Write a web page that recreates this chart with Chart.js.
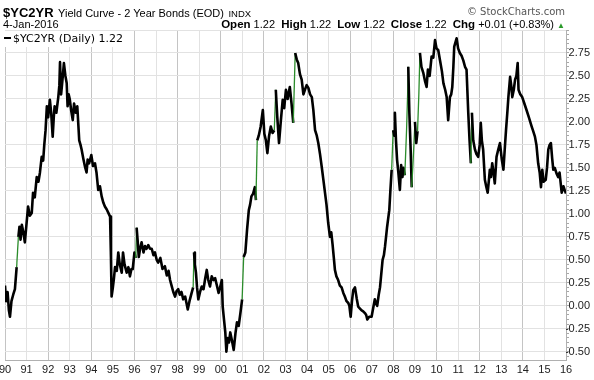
<!DOCTYPE html>
<html>
<head>
<meta charset="utf-8">
<script src="https://cdn.jsdelivr.net/npm/chart.js@4/dist/chart.umd.min.js"></script>
<style>
  html, body { margin:0; padding:0; background:#fff; }
  #wrap { position:relative; width:594px; height:380px; overflow:hidden; font-family:"Liberation Sans", Arial, sans-serif; color:#000; }
  canvas { position:absolute; left:0; top:0; }
  .t { position:absolute; white-space:nowrap; }
  #l1 { left:3px; top:4px; line-height:16px; }
  #l1 .sym { font-weight:bold; font-size:13px; }
  #l1 .nm { font-size:11px; }
  #l1 .ex { font-size:9.5px; }
  #copy { right:29px; top:5px; color:#555; line-height:14px; font-family:"DejaVu Sans", sans-serif; font-size:10px; }
  #date { left:3px; top:17px; font-size:11px; line-height:14px; }
  #quote { right:29px; top:17px; font-size:11px; line-height:14px; }
  #quote b { font-weight:bold; font-size:11.5px; }
  #quote .tri { color:#2a9a2a; font-size:8px; }
  #leg { left:5px; top:31px; width:127px; height:16px; background:#fff; font-family:"DejaVu Sans", sans-serif; font-size:11px; line-height:16px; }
  #leg .dash { display:inline-block; width:7px; height:2px; background:#000; vertical-align:middle; margin:0 2px 0 -1px; position:relative; top:-1px; }
</style>
</head>
<body>
<div id="wrap">
  <canvas id="c" width="594" height="380"></canvas>
  <div class="t" id="l1"><span class="sym">$YC2YR</span> <span class="nm">Yield Curve - 2 Year Bonds (EOD)</span> <span class="ex">INDX</span></div>
  <div class="t" id="copy">© StockCharts.com</div>
  <div class="t" id="date">4-Jan-2016</div>
  <div class="t" id="quote"><b>Open</b> 1.22 &nbsp;<b>High</b> 1.22 &nbsp;<b>Low</b> 1.22 &nbsp;<b>Close</b> 1.22 &nbsp;<b>Chg</b> +0.01 (+0.83%) <span class="tri">▲</span></div>
  <div class="t" id="leg"><span class="dash"></span>$YC2YR (Daily) 1.22</div>
</div>
<script>
// Dates as decimal years
const dates = [
1990.00,1990.05,1990.12,1990.18,1990.23,1990.30,1990.38,1990.46,1990.54,1990.62,1990.67,1990.72,1990.78,1990.85,1990.92,
1991.00,1991.07,1991.15,1991.24,1991.30,1991.38,1991.47,1991.55,1991.62,1991.70,1991.77,1991.82,1991.88,1991.94,
1992.00,1992.08,1992.14,1992.21,1992.26,1992.30,1992.38,1992.47,1992.52,1992.55,1992.60,1992.66,1992.73,1992.80,1992.86,1992.90,1992.95,
1993.00,1993.07,1993.14,1993.20,1993.28,1993.35,1993.44,1993.50,1993.55,1993.63,1993.71,1993.78,1993.83,1993.90,
1994.00,1994.08,1994.17,1994.24,1994.32,1994.40,1994.48,1994.56,1994.63,1994.71,1994.79,1994.87,1994.91,1994.94,
1995.00,1995.05,1995.10,1995.18,1995.25,1995.32,1995.41,1995.47,1995.54,1995.64,1995.72,1995.79,1995.86,1995.92,
1996.00,1996.06,1996.10,1996.15,1996.20,1996.26,1996.33,1996.42,1996.49,1996.56,1996.64,1996.72,1996.80,1996.88,1996.95,
1997.03,1997.10,1997.20,1997.30,1997.41,1997.50,1997.58,1997.65,1997.72,1997.80,1997.88,1997.95,
1998.03,1998.10,1998.18,1998.26,1998.35,1998.42,1998.47,1998.55,1998.65,1998.72,1998.76,1998.80,1998.85,1998.90,1998.96,
1999.04,1999.12,1999.20,1999.28,1999.35,1999.42,1999.50,1999.58,1999.66,1999.74,1999.82,1999.90,1999.97,
2000.05,2000.09,2000.15,2000.21,2000.26,2000.32,2000.38,2000.44,2000.52,2000.60,2000.68,2000.75,2000.83,2000.91,2000.99,
2001.06,2001.14,2001.22,2001.30,2001.36,2001.42,2001.50,2001.58,2001.63,2001.69,2001.76,2001.85,2001.95,
2002.02,2002.09,2002.16,2002.24,2002.32,2002.40,2002.48,2002.55,2002.62,2002.70,2002.78,2002.87,2002.94,
2003.02,2003.10,2003.20,2003.28,2003.36,2003.45,2003.52,2003.59,2003.67,2003.75,2003.83,2003.90,2003.98,
2004.06,2004.14,2004.22,2004.29,2004.37,2004.45,2004.52,2004.60,2004.68,2004.75,2004.83,2004.90,2004.98,
2005.06,2005.12,2005.18,2005.24,2005.29,2005.36,2005.44,2005.52,2005.60,2005.68,2005.75,2005.83,2005.91,2005.96,
2006.02,2006.08,2006.14,2006.22,2006.30,2006.37,2006.45,2006.53,2006.60,2006.68,2006.74,2006.79,2006.88,2006.99,
2007.06,2007.14,2007.20,2007.25,2007.32,2007.38,2007.44,2007.50,2007.56,2007.61,2007.66,2007.71,2007.76,2007.81,2007.86,2007.92,2007.99,
2008.04,2008.07,2008.12,2008.17,2008.23,2008.30,2008.36,2008.42,2008.47,2008.53,2008.61,2008.66,2008.69,2008.74,2008.80,2008.85,2008.92,
2009.00,2009.06,2009.12,2009.18,2009.23,2009.30,2009.39,2009.46,2009.54,2009.60,2009.68,2009.77,2009.85,2009.93,
2010.00,2010.08,2010.16,2010.25,2010.32,2010.40,2010.47,2010.54,2010.62,2010.68,2010.73,2010.78,2010.82,2010.93,
2011.00,2011.08,2011.16,2011.24,2011.32,2011.39,2011.47,2011.53,2011.59,2011.64,2011.70,2011.78,2011.85,2011.93,
2012.00,2012.05,2012.10,2012.16,2012.24,2012.30,2012.37,2012.42,2012.47,2012.52,2012.58,2012.64,2012.70,2012.78,2012.86,2012.94,
2013.02,2013.10,2013.16,2013.22,2013.28,2013.33,2013.41,2013.46,2013.51,2013.58,2013.64,2013.70,2013.76,2013.80,2013.88,2013.97,
2014.07,2014.17,2014.28,2014.41,2014.48,2014.56,2014.63,2014.71,2014.78,2014.84,2014.90,2014.96,
2015.06,2015.12,2015.18,2015.24,2015.30,2015.36,2015.41,2015.48,2015.56,2015.64,2015.70,2015.80,2015.88,2015.95,2016.00
];
const spread = [
0.22,0.05,0.15,-0.05,-0.12,0.05,0.12,0.18,0.42,0.75,0.86,0.72,0.88,0.80,0.69,
0.90,1.08,0.98,1.01,1.23,1.18,1.40,1.35,1.45,1.62,1.58,1.75,1.91,2.17,
2.05,2.24,2.10,1.84,2.05,2.17,2.10,2.27,2.40,2.65,2.30,2.45,2.64,2.50,2.42,2.17,2.30,
2.25,2.12,2.02,2.20,2.10,2.17,1.80,1.75,1.70,1.60,1.51,1.45,1.59,1.55,
1.64,1.52,1.55,1.45,1.26,1.30,1.19,1.12,1.08,1.05,1.01,0.97,0.53,0.10,
0.20,0.30,0.42,0.38,0.58,0.45,0.36,0.58,0.45,0.36,0.42,0.32,0.40,0.40,
0.58,0.52,0.85,0.70,0.53,0.62,0.69,0.58,0.65,0.62,0.66,0.62,0.62,0.55,0.58,
0.50,0.47,0.52,0.40,0.43,0.33,0.38,0.28,0.22,0.15,0.10,0.16,
0.18,0.12,0.15,0.07,0.10,0.02,-0.04,0.05,0.14,0.20,0.58,0.45,0.36,0.20,0.07,
0.15,0.21,0.18,0.30,0.39,0.28,0.21,0.32,0.28,0.30,0.22,0.14,0.20,
0.28,-0.01,-0.15,-0.29,-0.50,-0.35,-0.40,-0.29,-0.38,-0.48,-0.30,-0.18,-0.22,-0.08,0.07,
0.53,0.58,0.83,1.04,1.10,1.19,1.22,1.29,1.15,1.80,1.85,1.95,2.13,
1.87,1.80,1.66,1.85,1.95,1.88,1.91,2.35,2.05,1.77,2.00,2.24,2.15,
2.35,2.25,2.38,2.20,1.99,2.75,2.68,2.64,2.52,2.46,2.30,2.35,2.40,
2.37,2.30,2.27,2.13,1.91,1.85,1.77,1.65,1.51,1.38,1.23,1.10,0.90,
0.75,0.80,0.67,0.52,0.39,0.32,0.28,0.22,0.20,0.14,0.10,0.05,0.03,0.00,
-0.12,0.05,0.17,0.20,0.08,-0.01,-0.03,-0.05,-0.06,-0.08,-0.10,-0.15,-0.12,-0.12,
-0.03,0.07,0.02,0.00,0.12,0.20,0.35,0.50,0.55,0.64,0.75,0.86,0.95,1.04,1.25,1.48,1.91,
1.85,2.10,1.80,1.59,1.45,1.26,1.53,1.40,1.50,1.42,1.91,2.30,2.60,2.10,1.70,1.29,1.60,
2.00,1.77,1.90,2.30,2.75,2.60,2.53,2.45,2.38,2.57,2.50,2.71,2.70,2.89,
2.80,2.78,2.67,2.55,2.42,2.35,2.27,2.02,2.27,2.30,2.38,2.60,2.82,2.91,
2.80,2.75,2.72,2.67,2.60,2.57,2.10,1.80,1.55,2.10,1.80,1.70,1.65,1.62,
1.75,1.99,1.80,1.70,1.37,1.30,1.23,1.35,1.48,1.40,1.55,1.45,1.33,1.62,1.70,1.77,
1.60,1.48,1.70,1.91,2.10,2.27,2.49,2.40,2.27,2.35,2.46,2.50,2.64,2.35,2.30,2.27,
2.20,2.13,2.05,1.95,1.90,1.84,1.75,1.55,1.45,1.29,1.48,1.35,
1.37,1.50,1.70,1.75,1.77,1.60,1.48,1.50,1.44,1.40,1.45,1.23,1.30,1.25,1.22
];
const yearTicks = [1990,1991,1992,1993,1994,1995,1996,1997,1998,1999,2000,2001,2002,2003,2004,2005,2006,2007,2008,2009,2010,2011,2012,2013,2014,2015,2016];
const yLabelValues = [-0.50,-0.25,0.00,0.25,0.50,0.75,1.00,1.25,1.50,1.75,2.00,2.25,2.50,2.75];

const points = dates.map((d, i) => ({x: d, y: spread[i]}));
const isMajor = v => Math.abs(v * 4 - Math.round(v * 4)) < 1e-6;
const steepUp = c => (c.p1.parsed.y - c.p0.parsed.y > 0.3);

new Chart(document.getElementById('c'), {
  type: 'line',
  data: {
    datasets: [{
      label: '$YC2YR (Daily)',
      data: points,
      borderColor: '#000',
      borderWidth: 2.6,
      pointRadius: 0,
      tension: 0,
      borderJoinStyle: 'round',
      segment: {
        borderColor: c => (steepUp(c) ? '#2b8c2b' : '#000'),
        borderWidth: c => (steepUp(c) ? 1.3 : 2.6)
      }
    }]
  },
  options: {
    responsive: false,
    animation: false,
    layout: { padding: { left: 5, top: 30, right: 4, bottom: 0 } },
    plugins: { legend: { display: false }, title: { display: false }, tooltip: { enabled: false } },
    scales: {
      x: {
        type: 'linear',
        min: 1990, max: 2016,
        afterBuildTicks: s => { s.ticks = yearTicks.map(v => ({value: v})); },
        afterFit: s => { s.height = 20; s.paddingLeft = 0; s.paddingRight = 0; },
        ticks: {
          autoSkip: false, maxRotation: 0, padding: 3,
          color: '#222',
          font: { family: '"Liberation Sans", Arial, sans-serif', size: 11 },
          callback: v => String(Math.round(v) % 100).padStart(2, '0')
        },
        grid: {
          color: c => (c.tick && Math.round(c.tick.value) % 2 === 0 ? '#c4c4c4' : '#e2e2e2'),
          tickLength: 0, lineWidth: 1
        },
        border: { color: '#b0b0b0' }
      },
      y: {
        position: 'right',
        min: -0.59, max: 3.0,
        afterBuildTicks: s => {
          const t = [];
          for (let k = -11; k <= 60; k++) t.push({value: k * 0.05});
          s.ticks = t;
        },
        afterFit: s => { s.width = 24; s.paddingTop = 0; s.paddingBottom = 0; },
        ticks: {
          autoSkip: false, padding: 1, crossAlign: 'far',
          color: '#222',
          font: { family: '"Liberation Sans", Arial, sans-serif', size: 11 },
          callback: v => (yLabelValues.some(m => Math.abs(m - v) < 1e-6) ? v.toFixed(2) : '')
        },
        grid: {
          color: c => (c.tick && isMajor(c.tick.value) ? '#e2e2e2' : 'rgba(0,0,0,0)'),
          tickColor: '#a8a8a8',
          tickLength: 3
        },
        border: { color: '#b0b0b0' }
      }
    }
  }
});
</script>
</body>
</html>
